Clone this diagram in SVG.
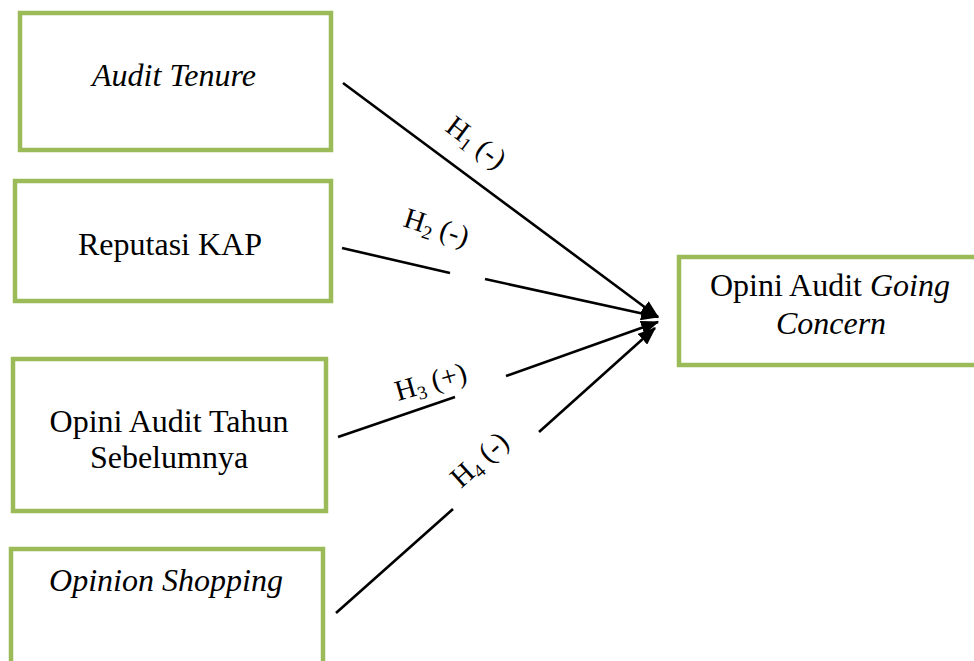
<svg xmlns="http://www.w3.org/2000/svg" width="974" height="661" viewBox="0 0 974 661">
<defs>
<marker id="ah" markerWidth="7" markerHeight="5.5" refX="6.5" refY="2.75" orient="auto" markerUnits="strokeWidth">
<path d="M0,0 L7,2.75 L0,5.5 Z" fill="#000"/>
</marker>
</defs>
<rect width="974" height="661" fill="#fff"/>
<g fill="#fff" stroke="#9BBB59" stroke-width="4.5">
<rect id="r1" x="20" y="13" width="311" height="137"/>
<rect id="r2" x="15" y="181" width="316" height="120"/>
<rect id="r3" x="13" y="359" width="313" height="152"/>
<rect id="r4" x="11" y="549" width="312" height="130"/>
<rect id="r5" x="679" y="257" width="320" height="108"/>
</g>
<g font-family="'Liberation Serif', serif" font-size="32" fill="#000" text-anchor="middle">
<g id="n1"><text x="174" y="86" font-style="italic">Audit Tenure</text></g>
<g id="n2"><text x="170" y="255">Reputasi KAP</text></g>
<g id="n3"><text x="169" y="432">Opini Audit Tahun</text><text x="169" y="468">Sebelumnya</text></g>
<g id="n4"><text x="166" y="591" font-style="italic">Opinion Shopping</text></g>
<g id="n5"><text x="830" y="296">Opini Audit <tspan font-style="italic">Going</tspan></text><text x="831" y="334" font-style="italic">Concern</text></g>
</g>
<g id="connectors" stroke="#000" stroke-width="2.6" fill="none">
<path d="M343,83 L658,317" marker-end="url(#ah)"/>
<path d="M342,248 L450,273"/>
<path d="M485,279 L658,317" marker-end="url(#ah)"/>
<path d="M338,437 L455,397"/>
<path d="M506,376 L658,322" marker-end="url(#ah)"/>
<path d="M336,613 L453,509"/>
<path d="M539,432 L655,328" marker-end="url(#ah)"/>
</g>
<g id="labels" font-family="'Liberation Serif', serif" font-size="29" fill="#000">
<text transform="translate(444,130) rotate(37)">H<tspan font-size="19" dy="5">1</tspan><tspan dy="-5"> (-)</tspan></text>
<text transform="translate(402,226) rotate(18)">H<tspan font-size="19" dy="5">2</tspan><tspan dy="-5"> (-)</tspan></text>
<text transform="translate(398,401) rotate(-16)">H<tspan font-size="19" dy="5">3</tspan><tspan dy="-5"> (+)</tspan></text>
<text transform="translate(461,489) rotate(-42)">H<tspan font-size="19" dy="5">4</tspan><tspan dy="-5"> (-)</tspan></text>
</g>
</svg>
